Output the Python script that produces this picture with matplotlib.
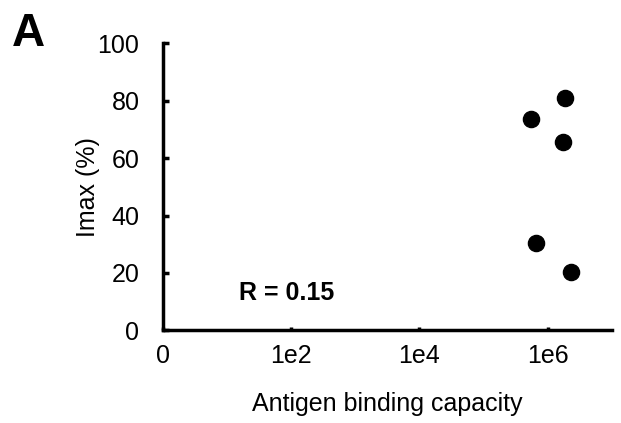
import matplotlib
matplotlib.use("Agg")
import matplotlib.pyplot as plt

# antigen binding capacity vs Imax (%)
abc = [1.85e6, 5.5e5, 1.75e6, 6.6e5, 2.3e6]
imax = [80.8, 73.7, 65.7, 30.5, 20.4]
xticks = [1, 1e2, 1e4, 1e6]
xtick_labels = ["0", "1e2", "1e4", "1e6"]
yticks = [0, 20, 40, 60, 80, 100]

plt.rcParams["font.family"] = ["Liberation Sans", "DejaVu Sans"]

fig = plt.figure(figsize=(6.21, 4.23), dpi=100)
ax = fig.add_axes([0.2625, 0.219, 0.7225, 0.6786])

ax.scatter(abc, imax, s=135, color="black", zorder=3)
ax.set_xscale("log")
ax.set_xlim(1, 1e7)
ax.set_ylim(0, 100)
ax.set_xticks(xticks)
ax.set_xticklabels(xtick_labels)
ax.minorticks_off()
ax.set_yticks(yticks)

for side in ["top", "right"]:
    ax.spines[side].set_visible(False)
for side in ["left", "bottom"]:
    ax.spines[side].set_linewidth(2.5)

ax.tick_params(axis="y", direction="in", width=2.5, length=4, labelsize=18, pad=17)
ax.tick_params(axis="x", direction="in", width=2.5, length=2.5, labelsize=18, pad=10)
ax.set_xlabel("Antigen binding capacity", fontsize=18)
ax.set_ylabel("Imax (%)", fontsize=18)
ax.xaxis.set_label_coords(0.5, -0.215)
ax.yaxis.set_label_coords(-0.14, 0.5)

ax.text(0.169, 0.106, "R = 0.15", transform=ax.transAxes, fontsize=18,
        fontweight="bold", va="baseline")
fig.text(12 / 621, 0.891, "A", fontsize=33, fontweight="bold", va="baseline")

plt.savefig("out.png")
plt.close()
